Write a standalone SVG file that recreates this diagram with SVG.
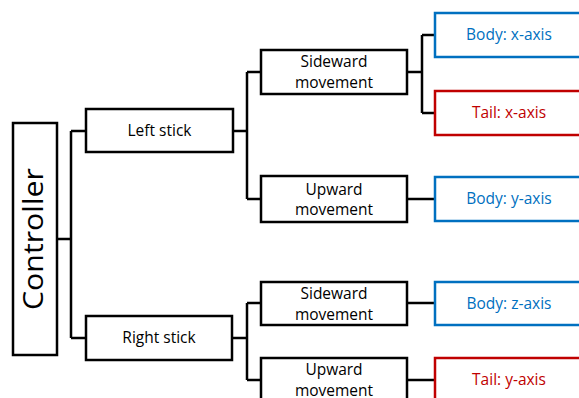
<svg xmlns="http://www.w3.org/2000/svg" width="579" height="398" viewBox="0 0 579 398">
<style>
.box{fill:#fff;stroke:#000;stroke-width:2.5}
.blue{fill:#fff;stroke:#0070C0;stroke-width:2.5}
.red{fill:#fff;stroke:#C00000;stroke-width:2.5}
.t{font-family:"Open Sans","Noto Sans",sans-serif;font-size:15.5px;text-anchor:middle;fill:#000}
.tb{fill:#0070C0}
.tr{fill:#C00000}
.conn{fill:none;stroke:#000;stroke-width:2.5}
</style>
<rect width="579" height="398" fill="#fff"/>
<g id="connectors" class="conn">
<path d="M57 239H71M71 131V338M71 131H86M71 338H86"/>
<path d="M233 131H247M247 72V199M247 72H261M247 199H261"/>
<path d="M232 338H247M247 303V380M247 303H261M247 380H261"/>
<path d="M407 72H422M422 35V113M422 35H435M422 113H435"/>
<path d="M407 199H435M407 303H435M407 380H435"/>
</g>
<g id="controller">
<rect class="box" x="13" y="123" width="44" height="232"/>
<text class="t" transform="translate(43,239) rotate(-90)" style="font-size:28px" textLength="142" lengthAdjust="spacingAndGlyphs">Controller</text>
</g>
<g id="left-stick">
<rect class="box" x="86" y="109" width="147" height="43"/>
<text class="t" x="159.5" y="136">Left stick</text>
</g>
<g id="right-stick">
<rect class="box" x="86" y="316" width="146" height="44"/>
<text class="t" x="159" y="343">Right stick</text>
</g>
<g id="sideward-left">
<rect class="box" x="261" y="50" width="146" height="44"/>
<text class="t" x="334" y="67">Sideward</text>
<text class="t" x="334" y="88">movement</text>
</g>
<g id="upward-left">
<rect class="box" x="261" y="176" width="146" height="46"/>
<text class="t" x="334" y="195">Upward</text>
<text class="t" x="334" y="215">movement</text>
</g>
<g id="sideward-right">
<rect class="box" x="261" y="282" width="146" height="43"/>
<text class="t" x="334" y="299">Sideward</text>
<text class="t" x="334" y="320">movement</text>
</g>
<g id="upward-right">
<rect class="box" x="261" y="358" width="146" height="46"/>
<text class="t" x="334" y="375">Upward</text>
<text class="t" x="334" y="396">movement</text>
</g>
<g id="body-x">
<rect class="blue" x="435" y="13" width="148" height="44"/>
<text class="t tb" x="509" y="40">Body: x-axis</text>
</g>
<g id="tail-x">
<rect class="red" x="435" y="91" width="148" height="44"/>
<text class="t tr" x="509" y="118">Tail: x-axis</text>
</g>
<g id="body-y">
<rect class="blue" x="435" y="177" width="148" height="44"/>
<text class="t tb" x="509" y="204">Body: y-axis</text>
</g>
<g id="body-z">
<rect class="blue" x="435" y="282" width="148" height="43"/>
<text class="t tb" x="509" y="309">Body: z-axis</text>
</g>
<g id="tail-y">
<rect class="red" x="435" y="358" width="148" height="44"/>
<text class="t tr" x="509" y="385">Tail: y-axis</text>
</g>
</svg>
